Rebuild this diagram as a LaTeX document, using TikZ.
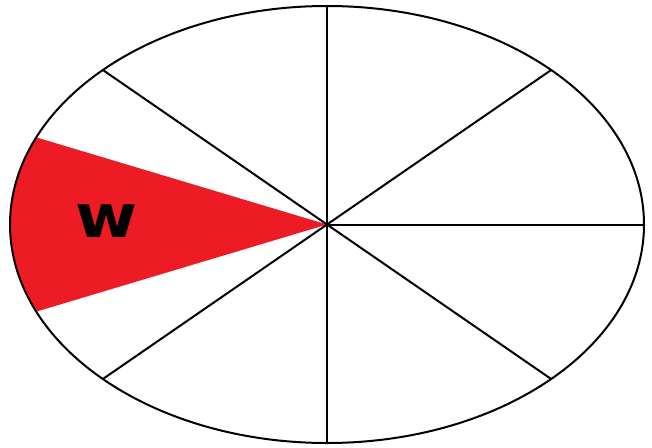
\documentclass[tikz,border=0pt]{standalone}
\usepackage{fontspec}
\setmainfont{DejaVu Sans}
\usetikzlibrary{calc}
\definecolor{sectorred}{RGB}{237,28,36}
\tikzset{spoke/.style={line width=2pt, black}}
\begin{document}
\begin{tikzpicture}[x=1pt, y=-1pt]
\useasboundingbox (0,0) rectangle (652,447);
\coordinate (o) at (327,224.5);
\fill[sectorred] (o) -- ($(o)+(156.5:317 and -218.5)$) arc[start angle=156.5, end angle=203.5, x radius=317, y radius=-218.5] -- cycle;
\foreach \a/\n in {0/r,45/tr,90/t,135/tl,225/bl,270/b,315/br} {
  \coordinate (\n) at ($(o)+(\a:317 and -218.5)$);
  \draw[spoke] (o) -- (\n);
}
\draw[spoke] (o) ellipse [x radius=317, y radius=218.5];
\node[font=\fontsize{60}{60}\selectfont\bfseries, xscale=1.12] (w) at (107,221) {w};
\end{tikzpicture}
\end{document}
